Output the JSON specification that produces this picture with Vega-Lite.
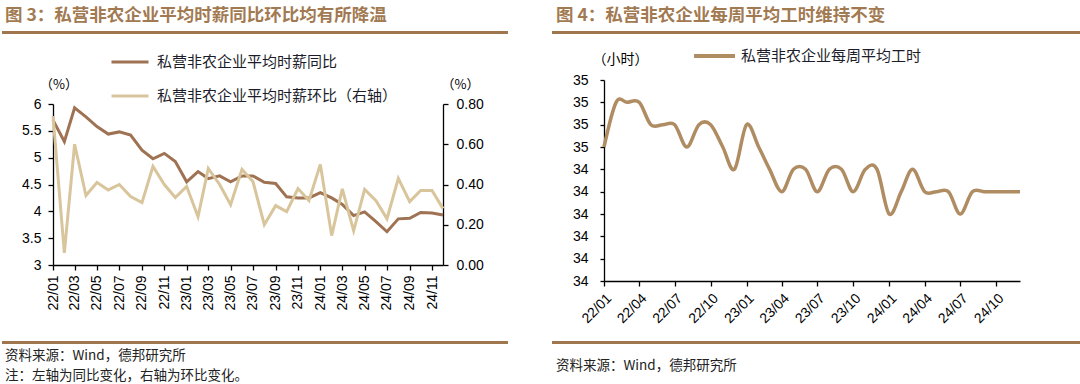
{
  "$schema": "https://vega.github.io/schema/vega-lite/v6.json",
  "background": "white",
  "padding": {"left": 2, "top": 5, "right": 0, "bottom": 0},
  "config": {
    "view": {"stroke": null},
    "font": "Liberation Sans",
    "axis": {"domainColor": "#000", "domainWidth": 1.3, "tickColor": "#000", "tickWidth": 1.3, "labelColor": "#000", "labelFont": "Liberation Sans", "labelFontSize": 14, "grid": false, "tickSize": 5},
    "legend": {"labelFont": "Noto Sans CJK SC", "labelFontSize": 15, "labelColor": "#1c1c2a", "symbolType": "stroke", "padding": 0, "labelLimit": 400}
  },
  "datasets": {
    "wage": [
      {"month": "2022-01-01", "yoy": 5.70, "mom": 0.74},
      {"month": "2022-02-01", "yoy": 5.30, "mom": 0.06},
      {"month": "2022-03-01", "yoy": 5.93, "mom": 0.60},
      {"month": "2022-04-01", "yoy": 5.76, "mom": 0.345},
      {"month": "2022-05-01", "yoy": 5.58, "mom": 0.41},
      {"month": "2022-06-01", "yoy": 5.44, "mom": 0.373},
      {"month": "2022-07-01", "yoy": 5.48, "mom": 0.40},
      {"month": "2022-08-01", "yoy": 5.42, "mom": 0.34},
      {"month": "2022-09-01", "yoy": 5.14, "mom": 0.31},
      {"month": "2022-10-01", "yoy": 4.98, "mom": 0.49},
      {"month": "2022-11-01", "yoy": 5.08, "mom": 0.40},
      {"month": "2022-12-01", "yoy": 4.93, "mom": 0.335},
      {"month": "2023-01-01", "yoy": 4.55, "mom": 0.39},
      {"month": "2023-02-01", "yoy": 4.74, "mom": 0.24},
      {"month": "2023-03-01", "yoy": 4.61, "mom": 0.48},
      {"month": "2023-04-01", "yoy": 4.66, "mom": 0.40},
      {"month": "2023-05-01", "yoy": 4.55, "mom": 0.30},
      {"month": "2023-06-01", "yoy": 4.66, "mom": 0.475},
      {"month": "2023-07-01", "yoy": 4.66, "mom": 0.415},
      {"month": "2023-08-01", "yoy": 4.54, "mom": 0.20},
      {"month": "2023-09-01", "yoy": 4.52, "mom": 0.295},
      {"month": "2023-10-01", "yoy": 4.27, "mom": 0.265},
      {"month": "2023-11-01", "yoy": 4.25, "mom": 0.38},
      {"month": "2023-12-01", "yoy": 4.25, "mom": 0.32},
      {"month": "2024-01-01", "yoy": 4.35, "mom": 0.50},
      {"month": "2024-02-01", "yoy": 4.25, "mom": 0.146},
      {"month": "2024-03-01", "yoy": 4.13, "mom": 0.378},
      {"month": "2024-04-01", "yoy": 3.92, "mom": 0.17},
      {"month": "2024-05-01", "yoy": 3.99, "mom": 0.376},
      {"month": "2024-06-01", "yoy": 3.81, "mom": 0.32},
      {"month": "2024-07-01", "yoy": 3.62, "mom": 0.23},
      {"month": "2024-08-01", "yoy": 3.86, "mom": 0.43},
      {"month": "2024-09-01", "yoy": 3.87, "mom": 0.315},
      {"month": "2024-10-01", "yoy": 3.98, "mom": 0.37},
      {"month": "2024-11-01", "yoy": 3.97, "mom": 0.37},
      {"month": "2024-12-01", "yoy": 3.93, "mom": 0.28}
    ],
    "hours": [
      {"month": "2022-01-01", "hours": 34.5},
      {"month": "2022-02-01", "hours": 34.7},
      {"month": "2022-03-01", "hours": 34.7},
      {"month": "2022-04-01", "hours": 34.7},
      {"month": "2022-05-01", "hours": 34.6},
      {"month": "2022-06-01", "hours": 34.6},
      {"month": "2022-07-01", "hours": 34.6},
      {"month": "2022-08-01", "hours": 34.5},
      {"month": "2022-09-01", "hours": 34.6},
      {"month": "2022-10-01", "hours": 34.6},
      {"month": "2022-11-01", "hours": 34.5},
      {"month": "2022-12-01", "hours": 34.4},
      {"month": "2023-01-01", "hours": 34.6},
      {"month": "2023-02-01", "hours": 34.5},
      {"month": "2023-03-01", "hours": 34.4},
      {"month": "2023-04-01", "hours": 34.3},
      {"month": "2023-05-01", "hours": 34.4},
      {"month": "2023-06-01", "hours": 34.4},
      {"month": "2023-07-01", "hours": 34.3},
      {"month": "2023-08-01", "hours": 34.4},
      {"month": "2023-09-01", "hours": 34.4},
      {"month": "2023-10-01", "hours": 34.3},
      {"month": "2023-11-01", "hours": 34.4},
      {"month": "2023-12-01", "hours": 34.4},
      {"month": "2024-01-01", "hours": 34.2},
      {"month": "2024-02-01", "hours": 34.3},
      {"month": "2024-03-01", "hours": 34.4},
      {"month": "2024-04-01", "hours": 34.3},
      {"month": "2024-05-01", "hours": 34.3},
      {"month": "2024-06-01", "hours": 34.3},
      {"month": "2024-07-01", "hours": 34.2},
      {"month": "2024-08-01", "hours": 34.3},
      {"month": "2024-09-01", "hours": 34.3},
      {"month": "2024-10-01", "hours": 34.3},
      {"month": "2024-11-01", "hours": 34.3},
      {"month": "2024-12-01", "hours": 34.3}
    ]
  },
  "spacing": 44,
  "resolve": {"scale": {"color": "independent"}, "legend": {"color": "independent"}},
  "hconcat": [
    {
      "bounds": "flush",
      "spacing": 20,
      "resolve": {"scale": {"color": "independent"}, "legend": {"color": "independent"}},
      "vconcat": [
        {
          "width": 504, "height": 1,
          "data": {"values": []},
          "mark": "text",
          "encoding": {},
          "view": {"stroke": "#A0764E", "strokeWidth": 2},
          "title": {"text": "图 3：私营非农企业平均时薪同比环比均有所降温", "anchor": "start", "dx": 2, "offset": 8, "font": "Noto Sans CJK SC", "fontSize": 17.5, "fontWeight": "bold", "color": "#A27A52"}
        },
        {
          "width": 504, "height": 269,
          "data": {"name": "wage"},
          "encoding": {
            "x": {"field": "month", "type": "temporal",
              "scale": {"type": "utc", "nice": false, "range": [50, 440]},
              "axis": {"title": null, "format": "%y/%m", "tickCount": {"interval": "month", "step": 2}, "labelAngle": -90, "offset": -57, "labelPadding": 5}}
          },
          "layer": [
            {
              "mark": {"type": "line", "strokeWidth": 3},
              "encoding": {
                "y": {"field": "yoy", "type": "quantitative",
                  "scale": {"domain": [3, 6], "range": [212, 51], "zero": false, "nice": false},
                  "axis": {"orient": "left", "offset": -50, "values": [3, 3.5, 4, 4.5, 5, 5.5, 6], "format": "~g", "labelPadding": 7,
                    "title": "（%）", "titleAngle": 0, "titleX": 5.5, "titleY": 31, "titleAlign": "center", "titleBaseline": "middle", "titleFont": "Noto Sans CJK SC", "titleFontSize": 13, "titleFontWeight": "normal", "titleColor": "#000"}},
                "color": {"datum": "私营非农企业平均时薪同比", "type": "nominal",
                  "scale": {"domain": ["私营非农企业平均时薪同比", "私营非农企业平均时薪环比（右轴）"], "range": ["#9E7252", "#D8C59C"]},
                  "legend": {"title": null, "orient": "none", "legendX": 107, "legendY": -1, "symbolSize": 1369, "symbolStrokeWidth": 3, "clipHeight": 20, "rowPadding": 14, "labelOffset": 7, "direction": "vertical"}}
              }
            },
            {
              "mark": {"type": "line", "strokeWidth": 3},
              "encoding": {
                "y": {"field": "mom", "type": "quantitative",
                  "scale": {"domain": [0, 0.8], "range": [212, 51], "nice": false},
                  "axis": {"orient": "right", "offset": -64, "values": [0, 0.2, 0.4, 0.6, 0.8], "format": ".2f", "labelPadding": 8,
                    "title": "（%）", "titleAngle": 0, "titleX": 17, "titleY": 31, "titleAlign": "center", "titleBaseline": "middle", "titleFont": "Noto Sans CJK SC", "titleFontSize": 13, "titleFontWeight": "normal", "titleColor": "#000"}},
                "color": {"datum": "私营非农企业平均时薪环比（右轴）", "type": "nominal"}
              }
            }
          ],
          "resolve": {"scale": {"y": "independent"}, "axis": {"y": "independent"}}
        },
        {
          "width": 504, "height": 1,
          "data": {"values": []},
          "mark": "text",
          "encoding": {},
          "view": {"stroke": "#A0764E", "strokeWidth": 2},
          "title": {"text": ["资料来源：Wind，德邦研究所", "注：左轴为同比变化，右轴为环比变化。"], "orient": "bottom", "anchor": "start", "dx": 2, "offset": 6, "lineHeight": 20, "font": "Noto Sans CJK SC", "fontSize": 13.5, "fontWeight": "normal", "color": "#222"}
        }
      ]
    },
    {
      "bounds": "flush",
      "spacing": 20,
      "resolve": {"scale": {"color": "independent"}, "legend": {"color": "independent"}},
      "vconcat": [
        {
          "width": 526, "height": 1,
          "data": {"values": []},
          "mark": "text",
          "encoding": {},
          "view": {"stroke": "#A0764E", "strokeWidth": 2},
          "title": {"text": "图 4：私营非农企业每周平均工时维持不变", "anchor": "start", "dx": 3, "offset": 8, "font": "Noto Sans CJK SC", "fontSize": 17.5, "fontWeight": "bold", "color": "#A27A52"}
        },
        {
          "width": 526, "height": 269,
          "data": {"name": "hours"},
          "mark": {"type": "line", "strokeWidth": 3.5, "interpolate": "cardinal"},
          "encoding": {
            "x": {"field": "month", "type": "temporal",
              "scale": {"type": "utc", "nice": false, "range": [51, 467]},
              "axis": {"title": null, "format": "%y/%m", "tickCount": {"interval": "month", "step": 3}, "labelAngle": -45, "offset": -41, "labelPadding": 5}},
            "y": {"field": "hours", "type": "quantitative",
              "scale": {"domain": [33.9, 34.8], "range": [228, 27], "zero": false, "nice": false},
              "axis": {"offset": -51, "values": [33.9, 34, 34.1, 34.2, 34.3, 34.4, 34.5, 34.6, 34.7, 34.8], "format": ".0f", "labelPadding": 12, "tickSize": 4,
                "title": "（小时）", "titleAngle": 0, "titleX": 16, "titleY": 6, "titleAlign": "center", "titleBaseline": "middle", "titleFont": "Noto Sans CJK SC", "titleFontSize": 14, "titleFontWeight": "normal", "titleColor": "#000"}},
            "color": {"datum": "私营非农企业每周平均工时", "type": "nominal",
              "scale": {"domain": ["私营非农企业每周平均工时"], "range": ["#B08C62"]},
              "legend": {"title": null, "orient": "none", "legendX": 139, "legendY": -7, "symbolSize": 1681, "symbolStrokeWidth": 4, "clipHeight": 20, "labelOffset": 4}}
          }
        },
        {
          "width": 526, "height": 1,
          "data": {"values": []},
          "mark": "text",
          "encoding": {},
          "view": {"stroke": "#A0764E", "strokeWidth": 2},
          "title": {"text": "资料来源：Wind，德邦研究所", "orient": "bottom", "anchor": "start", "dx": 3, "offset": 16, "font": "Noto Sans CJK SC", "fontSize": 13.5, "fontWeight": "normal", "color": "#222"}
        }
      ]
    }
  ]
}
